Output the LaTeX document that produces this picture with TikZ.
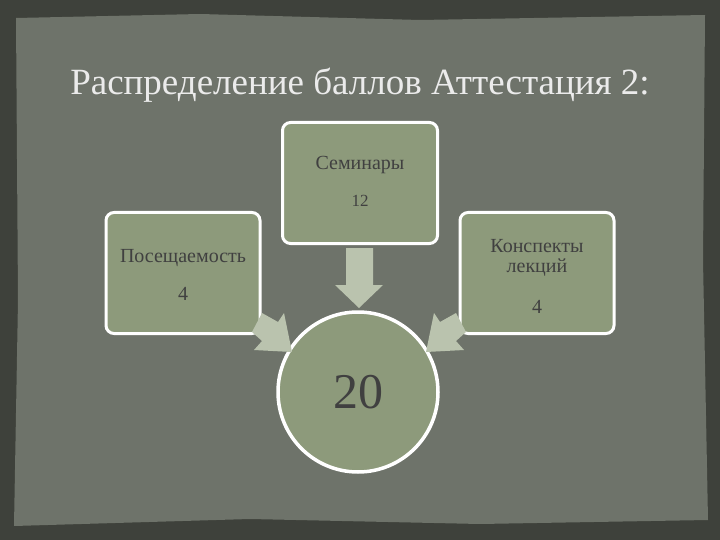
\documentclass[tikz,border=0pt]{standalone}
\usepackage{fontspec}
\setmainfont{Liberation Serif}
\begin{document}
\begin{tikzpicture}[x=1pt,y=-1pt,
  box/.style={draw=white,line width=3pt,rounded corners=8pt,fill=boxc},
  lbl/.style={text=black!75,align=center,font=\fontsize{20}{22}\selectfont},
  arr/.style={fill=arrc,draw=none}]
\definecolor{boxc}{HTML}{8D9A7B}
\definecolor{arrc}{HTML}{BAC3AE}
\definecolor{panel}{HTML}{6E736A}
\definecolor{edge}{HTML}{3E413B}
\fill[edge] (0,0) rectangle (720,540);
\fill[panel] (16,18) -- (200,14) -- (420,20) -- (705,15) -- (703,260) -- (708,520) -- (480,524) -- (250,519) -- (14,526) -- (18,300) -- cycle;
\useasboundingbox (0,0) rectangle (720,540);
\node (title) [text=white!92!black,font=\fontsize{37}{40}\selectfont] at (360,85) {Распределение баллов Аттестация 2:};
\node (sem) [box,minimum width=155pt,minimum height=121pt] at (360,183) {};
\node (semt) [lbl] at (360,165) {Семинары};
\node (semn) [lbl,font=\fontsize{17}{20}\selectfont] at (360,201) {12};
\node (pos) [box,minimum width=154pt,minimum height=121pt] at (183,273) {};
\node (post) [lbl] at (183,258) {Посещаемость};
\node (posn) [lbl] at (183,294) {4};
\node (kon) [box,minimum width=154pt,minimum height=121pt] at (537,273) {};
\node (kont) [lbl,font=\fontsize{20}{20}\selectfont] at (537,258) {Конспекты\\лекций};
\node (konn) [lbl] at (537,307) {4};
\node (res) [circle,draw=white,line width=3.5pt,fill=boxc,minimum size=160pt,text=black!75,font=\fontsize{50}{54}\selectfont] at (358,392) {20};
\fill[arr] (346,248) -- (373,248) -- (373,285) -- (383,285) -- (359,308) -- (335,285) -- (346,285) -- cycle;
\fill[arr] (262,313) -- (278,322) -- (284,313) -- (292,352) -- (254,350) -- (262,341) -- (252,332) -- cycle;
\fill[arr] (456,313) -- (440,322) -- (434,313) -- (426,352) -- (464,350) -- (456,341) -- (466,332) -- cycle;
\end{tikzpicture}
\end{document}
